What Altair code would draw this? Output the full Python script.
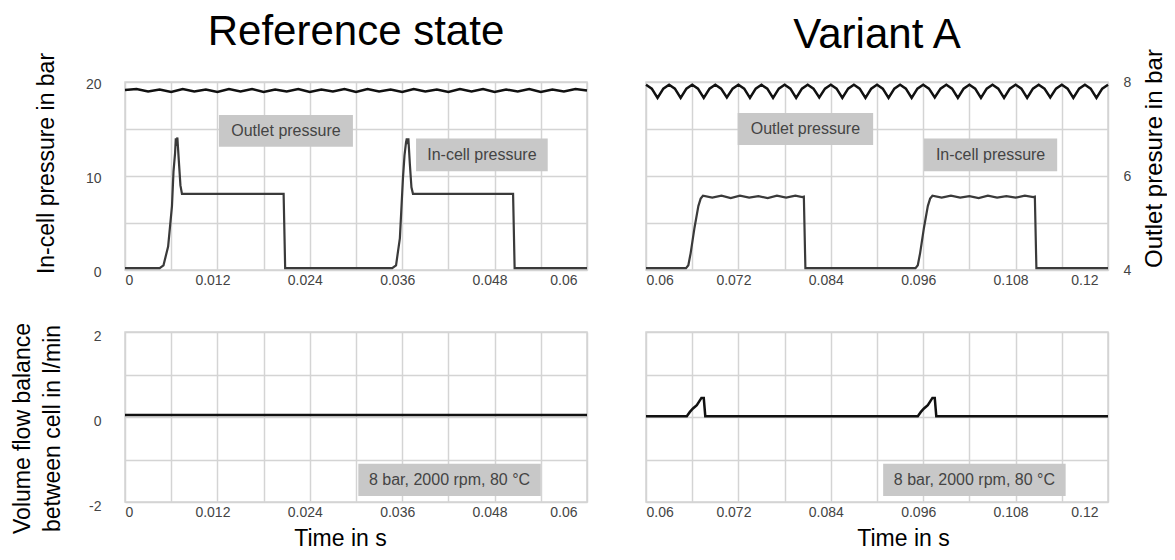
import altair as alt
import pandas as pd

FONT = "Liberation Sans"
GRID = "#d4d4d4"
BOX = "#c8c8c8"
CELL_COLOR = "#3a3a3a"
OUT_COLOR = "#111111"

# ---------------- Reference state ----------------
ref_cell_t = [0.0, 0.0045, 0.0050, 0.0056, 0.0061, 0.0063, 0.0065, 0.0066, 0.0067, 0.0068,
              0.0070, 0.0072, 0.0074, 0.0206, 0.0208,
              0.0347, 0.0352, 0.0357, 0.0361, 0.0363, 0.0365, 0.0366, 0.0367, 0.0368,
              0.0370, 0.0372, 0.0374, 0.0504, 0.0506, 0.0600]
ref_cell_p = [0.2, 0.2, 0.5, 2.5, 6.8, 10.5, 12.4, 14.0, 13.2, 14.1,
              11.5, 9.0, 8.1, 8.1, 0.2,
              0.2, 0.5, 3.4, 9.8, 12.2, 13.6, 14.0, 13.4, 14.0,
              11.2, 8.8, 8.1, 8.1, 0.2, 0.2]

ref_out_t = [0.0, 0.0015, 0.003, 0.0045, 0.006, 0.0075, 0.009, 0.0105, 0.012, 0.0135,
             0.015, 0.0165, 0.018, 0.0195, 0.021, 0.0225, 0.024, 0.0255, 0.027, 0.0285,
             0.03, 0.0315, 0.033, 0.0345, 0.036, 0.0375, 0.039, 0.0405, 0.042, 0.0435,
             0.045, 0.0465, 0.048, 0.0495, 0.051, 0.0525, 0.054, 0.0555, 0.057, 0.0585, 0.06]
ref_out_p = [7.83, 7.85, 7.80, 7.84, 7.79, 7.85, 7.80, 7.84, 7.79, 7.85,
             7.80, 7.85, 7.79, 7.84, 7.80, 7.85, 7.79, 7.84, 7.80, 7.85,
             7.79, 7.85, 7.80, 7.84, 7.79, 7.85, 7.80, 7.84, 7.79, 7.85,
             7.80, 7.85, 7.79, 7.84, 7.80, 7.85, 7.79, 7.84, 7.80, 7.85, 7.82]

ref_flow_t = [0.0, 0.06]
ref_flow_v = [0.05, 0.05]

# ---------------- Variant A ----------------
var_cell_t = [0.06, 0.0652, 0.0655, 0.0658, 0.0663, 0.0668, 0.0671, 0.0674,
              0.0686, 0.0698, 0.0710, 0.0722, 0.0734, 0.0746, 0.0758, 0.0770, 0.0782, 0.0794,
              0.0803, 0.0805, 0.0807,
              0.0950, 0.0953, 0.0956, 0.0961, 0.0966, 0.0969, 0.0972,
              0.0984, 0.0996, 0.1008, 0.1020, 0.1032, 0.1044, 0.1056, 0.1068, 0.1080, 0.1092,
              0.1103, 0.1105, 0.1107, 0.12]
var_cell_p = [0.2, 0.2, 0.5, 1.8, 4.5, 6.8, 7.6, 7.9,
              7.7, 7.9, 7.65, 7.9, 7.7, 7.85, 7.65, 7.9, 7.7, 7.9,
              7.75, 7.8, 0.2,
              0.2, 0.5, 1.8, 4.5, 6.8, 7.6, 7.9,
              7.7, 7.9, 7.7, 7.85, 7.65, 7.9, 7.7, 7.85, 7.7, 7.9,
              7.75, 7.8, 0.2, 0.2]

var_out_t = [0.06, 0.06075, 0.0615, 0.06225, 0.063, 0.06375, 0.0645, 0.06525, 0.066, 0.06675,
             0.0675, 0.06825, 0.069, 0.06975, 0.0705, 0.07125, 0.072, 0.07275, 0.0735, 0.07425,
             0.075, 0.07575, 0.0765, 0.07725, 0.078, 0.07875, 0.0795, 0.08025, 0.081, 0.08175,
             0.0825, 0.08325, 0.084, 0.08475, 0.0855, 0.08625, 0.087, 0.08775, 0.0885, 0.08925,
             0.09, 0.09075, 0.0915, 0.09225, 0.093, 0.09375, 0.0945, 0.09525, 0.096, 0.09675,
             0.0975, 0.09825, 0.099, 0.09975, 0.1005, 0.10125, 0.102, 0.10275, 0.1035, 0.10425,
             0.105, 0.10575, 0.1065, 0.10725, 0.108, 0.10875, 0.1095, 0.11025, 0.111, 0.11175,
             0.1125, 0.11325, 0.114, 0.11475, 0.1155, 0.11625, 0.117, 0.11775, 0.1185, 0.11925, 0.12]
var_out_p = [7.94, 7.86, 7.66, 7.86, 7.94, 7.86, 7.66, 7.86, 7.94, 7.86,
             7.66, 7.86, 7.94, 7.86, 7.67, 7.86, 7.94, 7.86, 7.66, 7.86,
             7.94, 7.86, 7.66, 7.86, 7.94, 7.86, 7.66, 7.86, 7.94, 7.86,
             7.67, 7.86, 7.94, 7.86, 7.66, 7.86, 7.94, 7.86, 7.66, 7.86,
             7.94, 7.86, 7.66, 7.86, 7.94, 7.86, 7.66, 7.86, 7.94, 7.86,
             7.67, 7.86, 7.94, 7.86, 7.66, 7.86, 7.94, 7.86, 7.66, 7.86,
             7.94, 7.86, 7.66, 7.86, 7.94, 7.86, 7.66, 7.86, 7.94, 7.86,
             7.67, 7.86, 7.94, 7.86, 7.66, 7.86, 7.94, 7.86, 7.66, 7.86, 7.94]

var_flow_t = [0.06, 0.0653, 0.0657, 0.0661, 0.0666, 0.0672, 0.0675, 0.0677,
              0.0953, 0.0957, 0.0961, 0.0966, 0.0972, 0.0975, 0.0977, 0.12]
var_flow_v = [0.02, 0.02, 0.12, 0.2, 0.28, 0.45, 0.45, 0.02,
              0.02, 0.12, 0.2, 0.28, 0.45, 0.45, 0.02, 0.02]

# ---------------- Annotation boxes (data units) ----------------
tl_labels = ["Outlet pressure", "In-cell pressure"]
tl_x1 = [0.0122, 0.0378]
tl_x2 = [0.0296, 0.0549]
tl_y1 = [13.1, 10.5]
tl_y2 = [16.5, 14.0]

tr_labels = ["Outlet pressure", "In-cell pressure"]
tr_x1 = [0.0719, 0.0961]
tr_x2 = [0.0895, 0.1134]
tr_y1 = [13.3, 10.5]
tr_y2 = [16.7, 14.0]

b_label = ["8 bar, 2000 rpm, 80 °C"]
bl_x1, bl_x2 = [0.0303], [0.0540]
br_x1, br_x2 = [0.0908], [0.1145]
b_y1, b_y2 = [-1.86], [-1.10]

x_ticks_left = [0, 0.006, 0.012, 0.018, 0.024, 0.03, 0.036, 0.042, 0.048, 0.054, 0.06]
x_ticks_right = [0.06, 0.066, 0.072, 0.078, 0.084, 0.09, 0.096, 0.102, 0.108, 0.114, 0.12]
y_top_ticks = [0, 5, 10, 15, 20]
y_bot_ticks = [-2, -1, 0, 1, 2]
y_out_ticks = [4, 6, 8]


def ann_df(labels, x1, x2, y1, y2):
    d = pd.DataFrame({"label": labels, "x1": x1, "x2": x2, "y1": y1, "y2": y2})
    d["xc"] = (d["x1"] + d["x2"]) / 2
    d["yc"] = (d["y1"] + d["y2"]) / 2
    return d


def x_axis(values, title="", title_x=0):
    kw = dict(values=values, grid=True, ticks=False, domain=False,
              labelExpr="round(datum.value*1000) % 12 == 0 ? format(datum.value, '.3~f') : ''",
              labelFlush=True, labelFlushOffset=-5, labelOffset=-5, labelOverlap=False,
              labelPadding=3, labelFontSize=14, labelColor="#444", labelFont=FONT,
              title=title)
    if title:
        kw.update(titleX=title_x, titleY=43, titleBaseline="alphabetic", titleAlign="center",
                  titleFontSize=23, titleFont=FONT, titleFontWeight="normal", titleColor="black")
    return alt.Axis(**kw)


def y_axis_top(show_labels, title=""):
    kw = dict(values=y_top_ticks, grid=True, ticks=False, domain=False, title=title)
    if show_labels:
        kw.update(labelExpr="datum.value % 10 == 0 ? datum.label : ''", labelPadding=24,
                  labelFontSize=14, labelColor="#444", labelFont=FONT, labelOffset=2)
    else:
        kw.update(labels=False)
    if title:
        kw.update(titleX=-79, titleY=81, titleAngle=270, titleAlign="center", titleBaseline="middle",
                  titleFontSize=23, titleFont=FONT, titleFontWeight="normal", titleColor="black")
    return alt.Axis(**kw)


def y_axis_bot(show_labels, title=""):
    kw = dict(values=y_bot_ticks, grid=True, ticks=False, domain=False, title=title)
    if show_labels:
        kw.update(labelExpr="datum.value % 2 == 0 ? (datum.value < 0 ? '-' + abs(datum.value) : '' + datum.value) : ''",
                  labelPadding=24, labelFontSize=14, labelColor="#444", labelFont=FONT, labelOffset=4)
    else:
        kw.update(labels=False)
    if title:
        kw.update(titleX=-103, titleY=96, titleAngle=270, titleAlign="center", titleBaseline="middle",
                  titleFontSize=23, titleFont=FONT, titleFontWeight="normal", titleColor="black",
                  titleLineHeight=30)
    return alt.Axis(**kw)


def top_panel(cell_t, cell_p, out_t, out_p, ann, xdom, xvals, title, title_offset,
              left_labels, right_axis):
    xs = alt.Scale(domain=xdom, nice=False, zero=False)
    xa = x_axis(xvals)
    ys = alt.Scale(domain=[0, 20], nice=False, zero=False)
    ya = y_axis_top(left_labels, "In-cell pressure in bar" if left_labels else "")
    cell = pd.DataFrame({"t": cell_t, "p": cell_p})
    out = pd.DataFrame({"t": out_t, "p": out_p})
    rects = alt.Chart(ann).mark_rect(color=BOX).encode(
        x=alt.X("x1:Q", scale=xs, axis=xa), x2="x2:Q",
        y=alt.Y("y1:Q", scale=ys, axis=ya), y2="y2:Q")
    texts = alt.Chart(ann).mark_text(font=FONT, fontSize=16, color="#444", align="center",
                                     baseline="middle").encode(
        x=alt.X("xc:Q", scale=xs, axis=xa), y=alt.Y("yc:Q", scale=ys, axis=ya), text="label:N")
    cell_line = alt.Chart(cell).mark_line(color=CELL_COLOR, strokeWidth=2.2).encode(
        x=alt.X("t:Q", scale=xs, axis=xa), y=alt.Y("p:Q", scale=ys, axis=ya))
    out_scale = alt.Scale(domain=[4, 8], nice=False, zero=False)
    if right_axis:
        oa = alt.Axis(values=y_out_ticks, orient="right", grid=False, ticks=False, domain=False,
                      labelPadding=15, labelFontSize=14, labelColor="#444", labelFont=FONT,
                      title="Outlet presure in bar", titleX=46, titleY=76, titleAngle=270,
                      titleAlign="center", titleBaseline="middle", titleFontSize=24,
                      titleFont=FONT, titleFontWeight="normal", titleColor="black")
        out_y = alt.Y("p:Q", scale=out_scale, axis=oa)
    else:
        out_y = alt.Y("p:Q", scale=out_scale, axis=None)
    out_line = alt.Chart(out).mark_line(color=OUT_COLOR, strokeWidth=2.5).encode(
        x=alt.X("t:Q", scale=xs, axis=xa), y=out_y)
    inner = alt.layer(rects, texts, cell_line)
    return alt.layer(inner, out_line).resolve_scale(y="independent").properties(
        width=462, height=188,
        title=alt.TitleParams(text=title, font=FONT, fontSize=42, fontWeight="normal",
                              color="black", anchor="middle", baseline="alphabetic",
                              offset=title_offset, frame="group"))


def bottom_panel(flow_t, flow_v, ann, xdom, xvals, left_labels, title_x):
    xs = alt.Scale(domain=xdom, nice=False, zero=False)
    xa = x_axis(xvals, "Time in s", title_x)
    ys = alt.Scale(domain=[-2, 2], nice=False, zero=False)
    ya = y_axis_bot(left_labels, ["Volume flow balance", "between cell in l/min"] if left_labels else "")
    flow = pd.DataFrame({"t": flow_t, "v": flow_v})
    rects = alt.Chart(ann).mark_rect(color=BOX).encode(
        x=alt.X("x1:Q", scale=xs, axis=xa), x2="x2:Q",
        y=alt.Y("y1:Q", scale=ys, axis=ya), y2="y2:Q")
    texts = alt.Chart(ann).mark_text(font=FONT, fontSize=16, color="#444", align="center",
                                     baseline="middle").encode(
        x=alt.X("xc:Q", scale=xs, axis=xa), y=alt.Y("yc:Q", scale=ys, axis=ya), text="label:N")
    line = alt.Chart(flow).mark_line(color=OUT_COLOR, strokeWidth=2.5).encode(
        x=alt.X("t:Q", scale=xs, axis=xa), y=alt.Y("v:Q", scale=ys, axis=ya))
    return alt.layer(rects, texts, line).properties(width=462, height=170)


tl = top_panel(ref_cell_t, ref_cell_p, ref_out_t, ref_out_p,
               ann_df(tl_labels, tl_x1, tl_x2, tl_y1, tl_y2), [0, 0.06], x_ticks_left,
               "Reference state", -35, True, False)
tr = top_panel(var_cell_t, var_cell_p, var_out_t, var_out_p,
               ann_df(tr_labels, tr_x1, tr_x2, tr_y1, tr_y2), [0.06, 0.12], x_ticks_right,
               "Variant A", -41, False, True)
bl = bottom_panel(ref_flow_t, ref_flow_v, ann_df(b_label, bl_x1, bl_x2, b_y1, b_y2),
                  [0, 0.06], x_ticks_left, True, 215)
br = bottom_panel(var_flow_t, var_flow_v, ann_df(b_label, br_x1, br_x2, b_y1, b_y2),
                  [0.06, 0.12], x_ticks_right, False, 257)

chart = alt.concat(tl, tr, bl, br, columns=2, spacing={"row": 62, "column": 59},
                   bounds="flush").properties(
    padding={"left": 2, "top": 2, "right": 0, "bottom": 0}
).configure_view(stroke=GRID, strokeWidth=1.5).configure_axis(
    gridColor=GRID, gridWidth=1.5
)

chart.save("out.html", embed_options={"renderer": "svg", "actions": False})
